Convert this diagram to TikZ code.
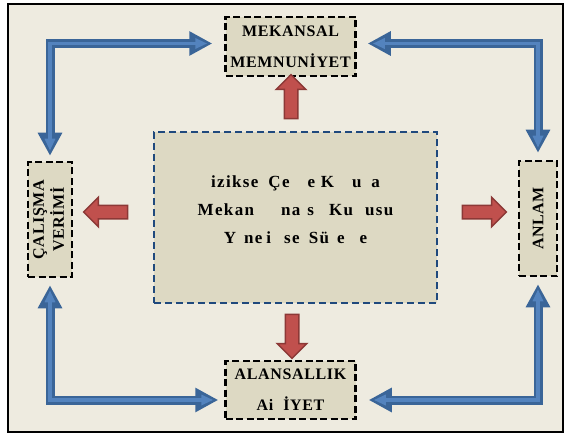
\documentclass[tikz,border=0pt]{standalone}
\usepackage{fontspec}
\setmainfont{Liberation Serif}
\usepackage{graphicx}
\usetikzlibrary{arrows.meta, shapes.arrows, positioning}

\definecolor{pageBg}{HTML}{EEEBE0}
\definecolor{boxFill}{HTML}{DDD9C3}
\definecolor{coreEdge}{HTML}{1F497D}
\definecolor{linkDark}{HTML}{3A6598}
\definecolor{linkLight}{HTML}{5383BE}
\definecolor{pushFill}{HTML}{C0504D}
\definecolor{pushEdge}{HTML}{8C3836}

\tikzset{
	factor/.style={draw=black, line width=2.5pt, dash pattern=on 7pt off 3.5pt,
		fill=boxFill, inner sep=0pt, align=center,
		font=\bfseries\fontsize{16}{31}\selectfont\addfontfeature{LetterSpace=4}},
	link/.style 2 args={line width=9pt, draw=linkDark, line join=miter,
		{Triangle[length=23pt,width=23pt]}-{Triangle[length=23pt,width=23pt]},
		shorten <=#1, shorten >=#2,
		postaction={draw=linkLight, line width=3.5pt,
			{Triangle[length=12pt,width=10pt]}-{Triangle[length=12pt,width=10pt]},
			shorten <=#1+5pt, shorten >=#2+5pt}},
	push/.style={single arrow, fill=pushFill, draw=pushEdge, line width=1.5pt,
		minimum height=44pt, inner xsep=0pt, inner ysep=6pt,
		single arrow head extend=8pt}
}

\begin{document}
\begin{tikzpicture}[x=1pt, y=-1pt]

	\useasboundingbox (0,0) rectangle (571,436);
	\draw[line width=2.5pt, fill=pageBg] (8,4) rectangle (563,432);

	% centre
	\node[draw=coreEdge, line width=2.5pt, dash pattern=on 7pt off 4pt, fill=boxFill,
		minimum width=283pt, minimum height=171pt, inner sep=0pt,
		font=\bfseries\fontsize{17}{28}\selectfont\addfontfeature{LetterSpace=8}] (core) at (295.5,217.5)
		{\begin{tabular}{@{}c@{}}
			izikse\hspace{10pt}Çe\hspace{18pt}e K\hspace{18pt}u\hspace{10pt}a\\
			Mekan\hspace{27pt}na\hspace{7pt}s\hspace{15pt}Ku\hspace{12pt}usu\\
			Y\hspace{8pt}ne\hspace{4pt}i\hspace{13pt}se\hspace{9pt}Sü\hspace{8pt}e\hspace{15pt}e\\[15pt]
		\end{tabular}};

	% outer factors
	\node[factor, minimum width=130pt, minimum height=59pt] (top) at (290.5,46.5) {MEKANSAL\\MEMNUNİYET};
	\node[factor, minimum width=130pt, minimum height=58pt] (bottom) at (290.5,390) {ALANSALLIK\\Ai\hspace{10pt}İYET};
	\node[factor, minimum width=44pt, minimum height=115pt, font=\bfseries\fontsize{16}{20}\selectfont\addfontfeature{LetterSpace=4}] (left) at (50,219.5)
		{\rotatebox{90}{\begin{tabular}{@{}c@{}}ÇALIŞMA\\VERİMİ\end{tabular}}};
	\node[factor, minimum width=38pt, minimum height=115pt] (right) at (538,218.5)
		{\rotatebox{90}{ANLAM}};

	% red arrows out of the centre
	\node[push, rotate=90] (pushUp) at (291,100) {};
	\node[push, rotate=-90] (pushDown) at (292,333) {};
	\node[push, rotate=180] (pushLeft) at (109,212) {};
	\node[push] (pushRight) at (481,212) {};

	% blue links between factors
	\draw[link={12pt}{5pt}] ([yshift=3pt]top.west) -| (left.north);
	\draw[link={11pt}{7pt}] ([yshift=3pt]top.east) -| (right.north);
	\draw[link={7pt}{6pt}] (left.south) |- ([yshift=-10pt]bottom.west);
	\draw[link={7pt}{12pt}] (right.south) |- ([yshift=-10pt]bottom.east);
\end{tikzpicture}
\end{document}
